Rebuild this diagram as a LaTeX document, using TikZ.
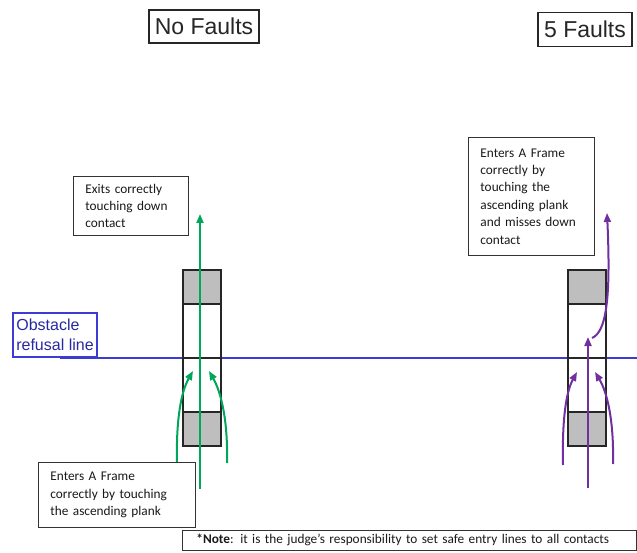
\documentclass[tikz,border=0pt]{standalone}
\usepackage{fontspec}
\setmainfont{Carlito}
\newfontfamily\arialfont{Liberation Sans}
\usetikzlibrary{arrows.meta}
\definecolor{agreen}{RGB}{0,166,90}
\definecolor{apurple}{RGB}{112,48,160}
\definecolor{rblue}{RGB}{60,60,210}
\definecolor{tblue}{RGB}{40,40,160}
\definecolor{plankgray}{RGB}{190,190,190}
\tikzset{
  titlebox/.style={draw=black!85, line width=1.3pt, inner sep=0pt, font=\arialfont\fontsize{23}{26}\selectfont, text=black!85},
  callout/.style={draw=black!80, line width=0.8pt, fill=white, align=left, anchor=north west, inner xsep=12pt, inner ysep=0pt, font=\fontsize{13.3}{17.4}\selectfont, text=black!90},
  plank/.style={draw=black!85, line width=1.4pt},
  gpath/.style={draw=agreen, line width=2pt, -{Triangle[length=9pt,width=7pt]}},
  ppath/.style={draw=apurple, line width=2pt, -{Triangle[length=9pt,width=7pt]}},
}
\begin{document}
\begin{tikzpicture}[x=1pt,y=-1pt]
\useasboundingbox (0,0) rectangle (637,553);
\clip (0,0) rectangle (637,553);
% titles
\node[titlebox, minimum width=110pt, minimum height=33pt] (nofaults) at (204,26.5) {No Faults};
\node[titlebox, minimum width=94pt, minimum height=34pt] (fivefaults) at (585,29.5) {5 Faults};
% refusal line
\coordinate (rlA) at (60,358);
\coordinate (rlB) at (637,358);
\draw[rblue, line width=1.8pt] (rlA) -- (rlB);
\node[draw=rblue, line width=1.6pt, minimum width=84pt, minimum height=44pt, inner sep=0pt, text=tblue, align=left, font=\arialfont\fontsize{16}{20}\selectfont] (refusal) at (55,335) {Obstacle\\refusal line};
% left A frame
\draw[plank, fill=plankgray] (183,270) rectangle (221,304);
\draw[plank, fill=white] (183,304) rectangle (221,412);
\draw[plank] (183,358) -- (221,358);
\draw[plank, fill=plankgray] (183,412) rectangle (221,446);
% right A frame
\draw[plank, fill=plankgray] (568,270) rectangle (606,304);
\draw[plank, fill=white] (568,304) rectangle (606,412);
\draw[plank] (568,358) -- (606,358);
\draw[plank, fill=plankgray] (568,412) rectangle (606,446);
% green paths
\coordinate (gS) at (200,489);
\coordinate (gE) at (200,214);
\draw[gpath] (gS) -- (gE);
\coordinate (gL0) at (177,463);
\coordinate (gL1) at (193,371);
\draw[gpath] (gL0) .. controls (176,420) and (181,392) .. (gL1);
\coordinate (gR0) at (227,463);
\coordinate (gR1) at (209,371);
\draw[gpath] (gR0) .. controls (228,420) and (221,392) .. (gR1);
% purple paths
\coordinate (pL0) at (563,465);
\coordinate (pL1) at (577,372);
\draw[ppath] (pL0) .. controls (562,420) and (566,392) .. (pL1);
\coordinate (pR0) at (613,464);
\coordinate (pR1) at (595,372);
\draw[ppath] (pR0) .. controls (614,420) and (607,392) .. (pR1);
\coordinate (pS) at (588,488);
\coordinate (pE) at (588,337);
\draw[ppath] (pS) -- (pE);
\coordinate (pX0) at (592,338);
\coordinate (pX1) at (607,213);
\draw[ppath] (pX0) .. controls (606,332) and (611,300) .. (pX1);
% callouts
\node[callout, text width=91pt, minimum height=59pt] (exits) at (73,176) {Exits correctly\\touching down\\contact};
\node[callout, text width=102pt, minimum height=118pt] (entersP) at (468,137) {Enters A Frame\\correctly by\\touching the\\ascending plank\\and misses down\\contact};
\node[callout, text width=133pt, minimum height=65pt] (entersG) at (38,462) {Enters A Frame\\correctly by touching\\the ascending plank};
\node[callout, text width=430pt, inner ysep=4pt] (note) at (182,530) {\hspace*{2pt}\textbf{*Note}: it is the judge’s responsibility to set safe entry lines to all contacts};
\end{tikzpicture}
\end{document}
